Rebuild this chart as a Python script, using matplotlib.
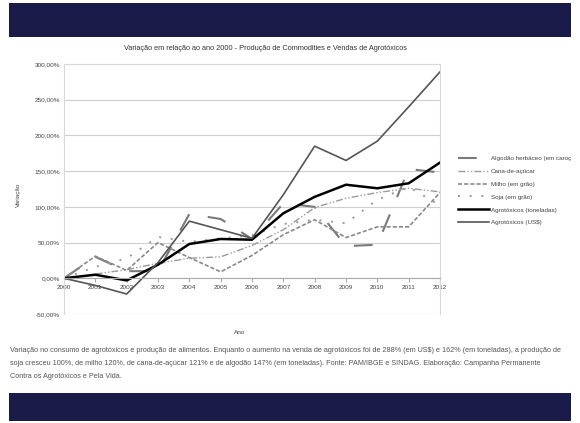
import numpy as np
import matplotlib.pyplot as plt
from matplotlib.patches import Rectangle

plt.rcParams['font.family'] = ['Liberation Sans Narrow', 'Liberation Sans', 'DejaVu Sans']

# dados (variação % em relação a 2000)
anos = list(range(2000, 2013))
algodao = [0, 30, 10, 10, 90, 83, 55, 105, 100, 45, 47, 153, 148]
cana = [0, 6, 12, 21, 28, 30, 46, 68, 99, 112, 120, 126, 121]
milho = [0, 31, 11, 50, 29, 9, 32, 61, 82, 57, 72, 72, 120]
soja = [0, 16, 28, 58, 51, 56, 60, 76, 82, 77, 110, 128, 102]
agro_ton = [0, 5, -3, 19, 48, 55, 54, 91, 114, 131, 126, 133, 162]
agro_usd = [0, -10, -22, 22, 80, 68, 56, 117, 185, 165, 192, 240, 289]

nomes = ["Algodão herbáceo (em caroç", "Cana-de-açúcar", "Milho (em grão)",
         "Soja (em grão)", "Agrotóxicos (toneladas)", "Agrotóxicos (US$)"]

titulo = "Variação em relação ao ano 2000 - Produção de Commodities e Vendas de Agrotóxicos"
legenda_texto = ("Variação no consumo de agrotóxicos e produção de alimentos. Enquanto o aumento na venda de agrotóxicos foi de 288% (em US$) e 162% (em toneladas), a produção de\n"
                 "soja cresceu 100%, de milho 120%, de cana-de-açúcar 121% e de algodão 147% (em toneladas). Fonte: PAM/IBGE e SINDAG. Elaboração: Campanha Permanente\n"
                 "Contra os Agrotóxicos e Pela Vida.")

fig = plt.figure(figsize=(5.8, 4.23), dpi=100)
fig.patch.set_facecolor('white')

# faixas azuis
navy = '#1b1b4a'
fig.patches.append(Rectangle((9/580, 1-37/423), 562/580, 34/423, transform=fig.transFigure,
                             facecolor=navy, edgecolor='none'))
fig.patches.append(Rectangle((9/580, 1-421/423), 562/580, 28/423, transform=fig.transFigure,
                             facecolor=navy, edgecolor='none'))

ax = fig.add_axes([64/580, 1-314/423, 376/580, 250/423])

ax.plot(anos, algodao, color='#7a7a7a', lw=1.5, dashes=(9, 9))
ax.plot(anos, cana, color='#9a9a9a', lw=1.0, dashes=(5, 1.5, 1, 1.5, 1, 1.5))
ax.plot(anos, milho, color='#8a8a8a', lw=1.2, dashes=(2.5, 1.2))
ax.plot(anos, soja, color='#9a9a9a', lw=1.4, dashes=(1, 5))
ax.plot(anos, agro_ton, color='black', lw=1.8)
ax.plot(anos, agro_usd, color='#555555', lw=1.2)

ax.set_xlim(2000, 2012)
ax.set_ylim(-50, 300)
ax.set_yticks(np.arange(-50, 301, 50))
ax.set_yticklabels([f"{v:.2f}%".replace('.', ',') for v in np.arange(-50, 301, 50)])
ax.set_xticks(anos)
ax.grid(axis='y', color='#cfcfcf', lw=0.8)
ax.set_axisbelow(True)
for s in ax.spines.values():
    s.set_color('#d8d8d8')
    s.set_linewidth(0.8)
ax.spines['bottom'].set_position(('data', 0))
ax.spines['bottom'].set_color('#aaaaaa')
ax.axhline(-50, color='#d8d8d8', lw=0.8)
ax.tick_params(axis='y', length=0, labelsize=4.6, colors='#444444', pad=3)
ax.tick_params(axis='x', length=3, labelsize=4.6, colors='#444444', pad=2, direction='out')
ax.tick_params(axis='x', color='#aaaaaa')

fig.text(18/580, 1-195/423, "Variação", rotation=90, fontsize=4.6, color='#444444', ha='center', va='center')
fig.text(240/580, 1-332/423, "Ano", fontsize=4.6, color='#444444', ha='center', va='center')
fig.text(265/580, 1-48/423, titulo, fontsize=5.3, color='#333333', ha='center', va='center')

fig.legend(nomes, loc='upper left', bbox_to_anchor=(452/580, 1-150/423), fontsize=4.5,
           frameon=False, handlelength=5, labelspacing=1.2, handletextpad=0.3, labelcolor='#444444')

fig.text(10/580, 1-347/423, legenda_texto, fontsize=5.25, color='#555555', ha='left', va='top',
         linespacing=2.25)

fig.savefig('out.png', dpi=100)
